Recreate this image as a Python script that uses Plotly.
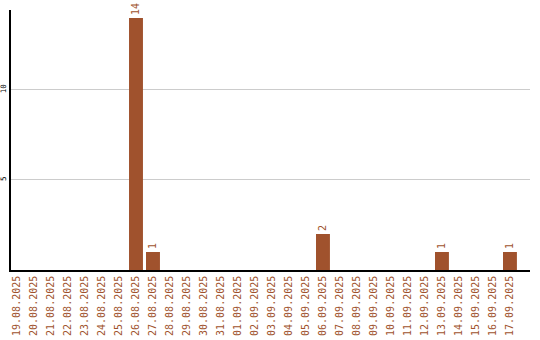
import plotly.graph_objects as go

dates = ["19.08.2025","20.08.2025","21.08.2025","22.08.2025","23.08.2025","24.08.2025",
         "25.08.2025","26.08.2025","27.08.2025","28.08.2025","29.08.2025","30.08.2025",
         "31.08.2025","01.09.2025","02.09.2025","03.09.2025","04.09.2025","05.09.2025",
         "06.09.2025","07.09.2025","08.09.2025","09.09.2025","10.09.2025","11.09.2025",
         "12.09.2025","13.09.2025","14.09.2025","15.09.2025","16.09.2025","17.09.2025"]
values = [0,0,0,0,0,0,0,14,1,0,0,0,0,0,0,0,0,0,2,0,0,0,0,0,0,1,0,0,0,1]
labels = [str(v) if v > 0 else "" for v in values]

color = "#A0522D"
fig = go.Figure(go.Bar(
    x=dates, y=values, text=labels, textposition="outside", textangle=-90,
    marker_color=color, marker_line_width=0, width=0.82, cliponaxis=False,
    textfont=dict(family="DejaVu Sans Mono", size=10, color=color),
))
fig.update_layout(
    width=540, height=340, margin=dict(l=11, r=10, t=10, b=70),
    plot_bgcolor="white", paper_bgcolor="white", showlegend=False,
    xaxis=dict(type="category", range=[-0.353, 30.18], tickangle=-90,
               tickfont=dict(family="DejaVu Sans Mono", size=10, color=color),
               showline=True, linecolor="black", linewidth=1.5, ticks="",
               showgrid=False, automargin=False),
    yaxis=dict(range=[0, 14.44], tickvals=[5, 10], ticktext=["5", "10"], tickangle=-90,
               tickfont=dict(family="DejaVu Sans Mono", size=7.5, color="black"),
               showline=True, linecolor="black", linewidth=1.5, ticks="",
               showgrid=True, gridcolor="#cccccc", gridwidth=1, zeroline=False,
               automargin=False, ticklabelstandoff=0),
)
fig.write_html("out.html")
